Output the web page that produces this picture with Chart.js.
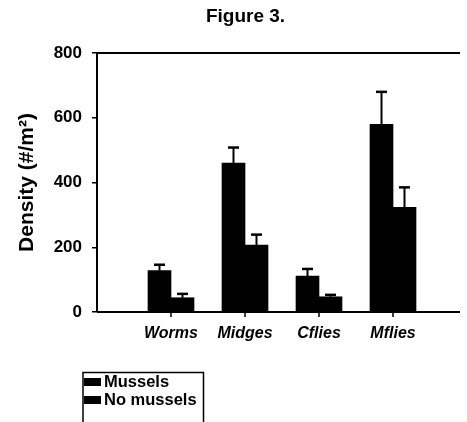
<!DOCTYPE html>
<html><head><meta charset="utf-8">
<script src="https://cdn.jsdelivr.net/npm/chart.js@4/dist/chart.umd.min.js"></script>
<style>html,body{margin:0;padding:0;background:#fff;} canvas{display:block}</style>
</head><body>
<canvas id="c" width="467" height="422"></canvas>
<script>
const categories = ['Worms', 'Midges', 'Cflies', 'Mflies'];
const seriesNames = ['Mussels', 'No mussels'];
const musselsValues = [128, 460, 111, 580];
const musselsErrors = [18, 48, 22, 100];
const noMusselsValues = [44, 207, 47, 323];
const noMusselsErrors = [12, 32, 6, 62];
const yTicks = [0, 200, 400, 600, 800];
const titleText = 'Figure 3.';
const yTitleText = 'Density (#/m²)';

const FAM = '"Liberation Sans", Arial, Helvetica, sans-serif';
const labels = ['', ...categories, ''];
const pad = arr => [null, ...arr, null];

const errorBars = {
  id: 'errorBars',
  afterDatasetsDraw(chart) {
    const ctx = chart.ctx;
    const y = chart.scales.y;
    ctx.save();
    ctx.strokeStyle = '#000';
    chart.data.datasets.forEach((ds, i) => {
      const meta = chart.getDatasetMeta(i);
      meta.data.forEach((bar, j) => {
        const v = ds.data[j];
        const e = ds.errors[j];
        if (v == null || e == null) return;
        const yTop = y.getPixelForValue(v + e);
        ctx.lineWidth = 2;
        ctx.beginPath();
        ctx.moveTo(bar.x, bar.y);
        ctx.lineTo(bar.x, yTop);
        ctx.stroke();
        ctx.lineWidth = 2.5;
        ctx.beginPath();
        ctx.moveTo(bar.x - 5.5, yTop);
        ctx.lineTo(bar.x + 5.5, yTop);
        ctx.stroke();
      });
    });
    ctx.restore();
  }
};

const frameAndLegend = {
  id: 'frameAndLegend',
  afterDraw(chart) {
    const ctx = chart.ctx;
    const a = chart.chartArea;
    const xs = chart.scales.x;
    ctx.save();
    ctx.strokeStyle = '#000';
    ctx.lineWidth = 2;
    // top frame line and x axis line
    ctx.beginPath();
    ctx.moveTo(a.left, a.top);
    ctx.lineTo(a.right - 7, a.top);
    ctx.moveTo(a.left, a.bottom);
    ctx.lineTo(a.right - 7, a.bottom);
    ctx.stroke();
    // category tick marks below the x axis
    ctx.lineWidth = 1.5;
    categories.forEach((c, i) => {
      const px = xs.getPixelForValue(i + 1);
      ctx.beginPath();
      ctx.moveTo(px, a.bottom);
      ctx.lineTo(px, a.bottom + 5);
      ctx.stroke();
    });
    // legend box
    ctx.lineWidth = 1.5;
    ctx.beginPath();
    ctx.moveTo(83, 422);
    ctx.lineTo(83, 372.5);
    ctx.lineTo(203.5, 372.5);
    ctx.lineTo(203.5, 422);
    ctx.stroke();
    ctx.font = 'bold 16.5px ' + FAM;
    ctx.textBaseline = 'middle';
    ctx.textAlign = 'left';
    chart.data.datasets.forEach((ds, i) => {
      const cy = 382 + i * 18;
      ctx.fillStyle = ds.backgroundColor;
      ctx.fillRect(84, cy - 4, 17, 8);
      ctx.fillStyle = '#000';
      ctx.fillText(ds.label, 104, cy);
    });
    ctx.restore();
  }
};

new Chart(document.getElementById('c'), {
  type: 'bar',
  data: {
    labels: labels,
    datasets: [
      { label: seriesNames[0], data: pad(musselsValues), errors: pad(musselsErrors), backgroundColor: '#000', barThickness: 23 },
      { label: seriesNames[1], data: pad(noMusselsValues), errors: pad(noMusselsErrors), backgroundColor: '#000', barThickness: 23 }
    ]
  },
  options: {
    responsive: false,
    animation: false,
    layout: { padding: { left: 24, right: 0, top: 0, bottom: 70 } },
    plugins: {
      legend: { display: false },
      tooltip: { enabled: false },
      title: {
        display: true, text: titleText, color: '#000',
        font: { family: FAM, size: 19, weight: 'bold' },
        padding: { top: 5, bottom: 25.2 }
      }
    },
    scales: {
      x: {
        offset: false,
        grid: { offset: false, drawOnChartArea: false, drawTicks: true, tickLength: 5, tickColor: 'rgba(0,0,0,0)' },
        border: { display: false },
        ticks: {
          color: '#000', padding: 7, autoSkip: false, maxRotation: 0,
          font: { family: FAM, size: 16, weight: 'bold', style: 'italic' }
        },
        afterFit: s => { s.height = 40; s.paddingLeft = 0; s.paddingRight = 0; }
      },
      y: {
        min: 0, max: 800,
        afterBuildTicks: s => { s.ticks = yTicks.map(v => ({ value: v })); },
        grid: { drawOnChartArea: false, drawTicks: true, tickLength: 5, color: '#000', lineWidth: 1.5 },
        border: { display: true, color: '#000', width: 2 },
        ticks: { color: '#000', padding: 10, font: { family: FAM, size: 17, weight: 'bold' } },
        title: {
          display: true, text: yTitleText, color: '#000',
          font: { family: FAM, size: 21, weight: 'bold' },
          padding: { top: -9.5, bottom: 0 }
        },
        afterFit: s => { s.width = 73; }
      }
    }
  },
  plugins: [errorBars, frameAndLegend]
});
</script>
</body></html>
